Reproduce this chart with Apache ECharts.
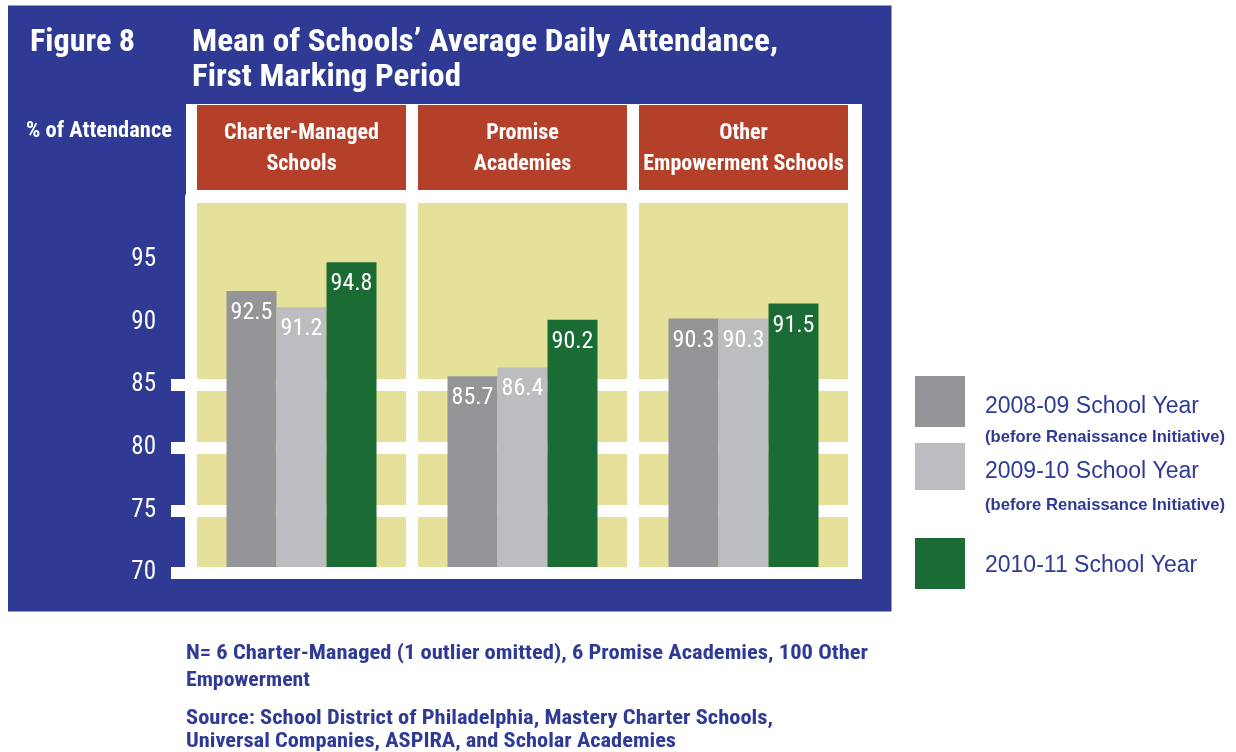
<!DOCTYPE html>
<html><head><meta charset="utf-8">
<script src="https://cdn.jsdelivr.net/npm/echarts@6/dist/echarts.min.js"></script>
<style>html,body{margin:0;padding:0;background:#fff}#c{width:1236px;height:752px}</style>
</head><body><div id="c"></div>
<script>
// ---- data ----
const categories = ['Charter-Managed\nSchools', 'Promise\nAcademies', 'Other\nEmpowerment Schools'];
const seriesNames = ['2008-09 School Year', '2009-10 School Year', '2010-11 School Year'];
const values0809 = [92.5, 85.7, 90.3];
const values0910 = [91.2, 86.4, 90.3];
const values1011 = [94.8, 90.2, 91.5];
const yTickLabels = [70, 75, 80, 85, 90, 95];
const yTickMarks = [70, 75, 80, 85];
const legendNote = '(before Renaissance Initiative)';
const footnotes = [
  'N= 6 Charter-Managed (1 outlier omitted), 6 Promise Academies, 100 Other',
  'Empowerment',
  'Source: School District of Philadelphia, Mastery Charter Schools,',
  'Universal Companies, ASPIRA, and Scholar Academies'
];

// ---- style ----
const NARROW = '"Roboto Condensed","Open Sans Condensed",sans-serif';
const WIDE = '"Liberation Sans",Arial,sans-serif';
const BLUE = '#2e3a94';
const RED = '#b5402a';
const YELLOW = '#e5e19b';
const colors = ['#939598', '#bcbdc0', '#1b6b35'];

const chart = echarts.init(document.getElementById('c'));
const values = [values0809, values0910, values1011];

const mctx = document.createElement('canvas').getContext('2d');
function txt(text, x, y, font, fill, targetW) {
  let sx = 1;
  if (targetW) { mctx.font = font; sx = targetW / mctx.measureText(text).width; }
  return { type: 'text', x: x, y: y, scaleX: sx, z: 50, silent: true,
    style: { text: text, font: font, fill: fill, verticalAlign: 'middle', align: 'left' } };
}

const option = {
  animation: false,
  backgroundColor: '#ffffff',
  graphic: { elements: [
    { type: 'rect', z: -20, silent: true, shape: { x: 8, y: 5.5, width: 883.5, height: 606 }, style: { fill: BLUE } },
    { type: 'rect', z: -19, silent: true, shape: { x: 186, y: 104, width: 676, height: 475 }, style: { fill: '#ffffff' } },
    txt('Figure 8', 30, 43.5, 'bold 31px ' + NARROW, '#fff', 105),
    txt('Mean of Schools\u2019 Average Daily Attendance,', 192, 43.5, 'bold 31px ' + NARROW, '#fff', 586),
    txt('First Marking Period', 192, 78.5, 'bold 31px ' + NARROW, '#fff', 269),
    txt('% of Attendance', 26, 131, 'bold 22px ' + NARROW, '#fff', 146),
    txt(legendNote, 985, 437, 'bold 16.5px ' + WIDE, BLUE, 240),
    txt(legendNote, 985, 505, 'bold 16.5px ' + WIDE, BLUE, 240),
    txt(footnotes[0], 186, 654, 'bold 20px ' + NARROW, BLUE, 682),
    txt(footnotes[1], 186, 681, 'bold 20px ' + NARROW, BLUE, 124),
    txt(footnotes[2], 186, 719, 'bold 20px ' + NARROW, BLUE, 587),
    txt(footnotes[3], 186, 742, 'bold 20px ' + NARROW, BLUE, 490)
  ]},
  grid: { left: 191, right: 382, top: 197, bottom: 179, show: true, backgroundColor: YELLOW, borderWidth: 0 },
  legend: seriesNames.map((n, i) => ({
    data: [n], orient: 'vertical', left: 915, top: [376, 443, 538][i],
    itemWidth: 50, itemHeight: [51, 47, 51][i], padding: 0, icon: 'rect', selectedMode: false,
    formatter: '{s| }\n{name}',
    textStyle: { color: BLUE, fontSize: 23, fontFamily: WIDE, lineHeight: 27, padding: [0, 0, 0, 15],
      rich: { s: { fontSize: 2, lineHeight: [10, 10, 5][i] } } }
  })),
  xAxis: [
    { type: 'category', data: categories, position: 'bottom', z: 10,
      axisLabel: { show: false }, axisTick: { show: false },
      axisLine: { show: true, lineStyle: { color: '#fff', width: 12 } },
      splitLine: { show: true, lineStyle: { color: '#fff', width: 12 } } },
    { type: 'category', data: categories, position: 'top', z: 10,
      axisLine: { show: true, lineStyle: { color: '#fff', width: 12 } },
      axisTick: { show: false }, splitLine: { show: false },
      axisLabel: { interval: 0, margin: 7, color: '#fff', fontFamily: NARROW, fontWeight: 'bold', fontSize: 22,
        lineHeight: 31, backgroundColor: RED, width: 209, padding: [13, 0, 10, 0], align: 'center' } }
  ],
  yAxis: { type: 'value', min: 70, max: 100, interval: 5,
    axisLine: { show: false },
    axisTick: { show: true, customValues: yTickMarks, length: 20, lineStyle: { color: '#fff', width: 12 } },
    axisLabel: { customValues: yTickLabels, margin: 35, color: '#fff', fontSize: 25, fontFamily: NARROW },
    splitLine: { show: true, lineStyle: { color: '#fff', width: 12 } } },
  series: seriesNames.map((n, i) => ({
    name: n, type: 'bar', data: values[i], xAxisIndex: 0, barWidth: 50, barGap: '0%',
    itemStyle: { color: colors[i] },
    label: { show: true, position: 'insideTop', distance: 10, color: '#fff', fontSize: 24, fontFamily: NARROW,
      formatter: p => p.value.toFixed(1) }
  }))
};
chart.setOption(option);
</script></body></html>
